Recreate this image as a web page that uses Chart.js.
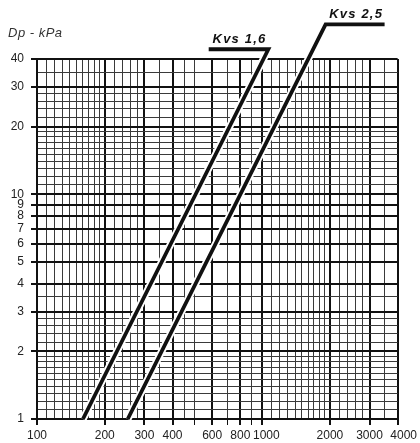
<!DOCTYPE html>
<html>
<head>
<meta charset="utf-8">
<script src="https://cdn.jsdelivr.net/npm/chart.js@4/dist/chart.umd.min.js"></script>
<style>
  html, body { margin: 0; padding: 0; background: #fff; }
  #wrap { width: 420px; height: 443px; position: relative; }
</style>
</head>
<body>
<div id="wrap"><canvas id="dpChart"></canvas></div>
<script>
// Diagramma perdite di carico — Dp (kPa) in funzione della portata, scala log-log.

// Linee Kvs: piede (Dp = 1), gomito sopra il riquadro, fine del tratto orizzontale.
const KVS16_Q  = [160, 1066, 579];
const KVS16_DP = [1, 44.2, 44.2];
const KVS25_Q  = [253, 1914, 3500];
const KVS25_DP = [1, 57, 57];

const SERIES_NAMES = ['Kvs 1,6', 'Kvs 2,5'];

// Griglia asse X (portata)
const X_GRID = [100, 110, 120, 130, 140, 150, 160, 170, 180, 190,
                200, 220, 240, 260, 280, 300, 350, 400, 450, 500,
                600, 700, 800, 900, 1000, 1100, 1200, 1300, 1400, 1500,
                1600, 1700, 1800, 1900, 2000, 2200, 2400, 2600, 2800,
                3000, 3500, 4000];
const X_LABELS = [100, 200, 300, 400, 600, 800, 1000, 2000, 3000, 4000];
const X_TICKMARKS = [100, 200, 300, 400, 500, 600, 700, 800, 900, 1000, 2000, 3000, 4000];

// Griglia asse Y (Dp)
const Y_GRID = [1, 1.1, 1.2, 1.3, 1.4, 1.5, 1.6, 1.7, 1.8, 1.9,
                2, 2.2, 2.4, 2.6, 2.8, 3, 3.5, 4, 5, 6, 7, 8, 9,
                10, 11, 12, 13, 14, 15, 16, 17, 18, 19,
                20, 22, 24, 26, 28, 30, 35, 40];
const Y_LABELS = [1, 2, 3, 4, 5, 6, 7, 8, 9, 10, 20, 30, 40];

const AXIS_TITLE = 'Dp - kPa';

(function() {
  Chart.defaults.font.family = "'Liberation Sans', Arial, sans-serif";
  Chart.defaults.font.size = 12;
  Chart.defaults.color = '#222';

  const pts = (xs, ys) => xs.map((x, i) => ({ x: x, y: ys[i] }));

  const isIn = (arr, v) => arr.some(a => Math.abs(a - v) < 1e-9);

  function gridFor(labels, marks) {
    return {
      color: ctx => isIn(labels, ctx.tick.value) ? '#111' : '#3a3a3a',
      lineWidth: ctx => isIn(labels, ctx.tick.value) ? 2 : 1,
      tickColor: ctx => isIn(marks, ctx.tick.value) ? '#111' : 'rgba(0,0,0,0)',
      tickWidth: ctx => isIn(labels, ctx.tick.value) ? 2 : 1,
      tickLength: 6,
      drawTicks: true,
    };
  }

  // Testi: titolo asse Y ed etichette Kvs sopra i tratti orizzontali.
  const textPlugin = {
    id: 'dpTexts',
    afterDraw(chart) {
      const c = chart.ctx;
      const sx = chart.scales.x, sy = chart.scales.y;
      c.save();
      c.fillStyle = '#333';
      c.font = "italic 13px 'Liberation Sans', Arial, sans-serif";
      c.letterSpacing = '0.5px';
      c.textAlign = 'left';
      c.textBaseline = 'middle';
      c.fillText(AXIS_TITLE, 8, 33);

      c.fillStyle = '#111';
      c.font = "bold italic 13px 'Liberation Sans', Arial, sans-serif";
      c.letterSpacing = '1.2px';
      c.textAlign = 'center';
      c.textBaseline = 'alphabetic';
      [[KVS16_Q, KVS16_DP], [KVS25_Q, KVS25_DP]].forEach((s, i) => {
        const xa = sx.getPixelForValue(s[0][1]);
        const xb = sx.getPixelForValue(s[0][2]);
        const y = sy.getPixelForValue(s[1][1]);
        c.fillText(SERIES_NAMES[i], (xa + xb) / 2 + 1, y - 6);
      });
      c.restore();
    }
  };

  const lineBase = {
    showLine: true,
    pointRadius: 0,
    pointHoverRadius: 0,
    clip: false,
    borderCapStyle: 'butt',
    borderJoinStyle: 'miter',
    tension: 0,
  };

  // etichette spostate un poco a destra come nell'originale
  const SHIFTED = { 1000: '\u2002\u2009', 4000: '\u2002\u2002' };

  new Chart(document.getElementById('dpChart'), {
    type: 'scatter',
    data: {
      datasets: [
        Object.assign({ label: 'halo16', data: pts(KVS16_Q, KVS16_DP), borderColor: '#fff', borderWidth: 7.5, order: 2 }, lineBase),
        Object.assign({ label: 'halo25', data: pts(KVS25_Q, KVS25_DP), borderColor: '#fff', borderWidth: 7.5, order: 2 }, lineBase),
        Object.assign({ label: SERIES_NAMES[0], data: pts(KVS16_Q, KVS16_DP), borderColor: '#111', borderWidth: 3.8, order: 1 }, lineBase),
        Object.assign({ label: SERIES_NAMES[1], data: pts(KVS25_Q, KVS25_DP), borderColor: '#111', borderWidth: 3.8, order: 1 }, lineBase),
      ],
    },
    options: {
      responsive: true,
      maintainAspectRatio: false,
      animation: false,
      events: [],
      layout: { padding: { top: 59, right: 21, left: 0, bottom: 0 } },
      plugins: { legend: { display: false }, tooltip: { enabled: false } },
      scales: {
        x: {
          type: 'logarithmic',
          min: 100,
          max: 4000,
          afterBuildTicks: scale => { scale.ticks = X_GRID.map(v => ({ value: v })); },
          afterFit: scale => { scale.height = 24; },
          grid: gridFor(X_LABELS, X_TICKMARKS),
          border: { color: '#111', width: 2 },
          ticks: {
            autoSkip: false,
            maxRotation: 0,
            minRotation: 0,
            padding: 3,
            color: '#222',
            callback: v => !isIn(X_LABELS, v) ? '' : (SHIFTED[v] || '') + v,
          },
        },
        y: {
          type: 'logarithmic',
          min: 1,
          max: 40,
          afterBuildTicks: scale => { scale.ticks = Y_GRID.map(v => ({ value: v })); },
          afterFit: scale => { scale.width = 37; },
          grid: gridFor(Y_LABELS, Y_LABELS),
          border: { color: '#111', width: 2 },
          ticks: {
            autoSkip: false,
            padding: 7,
            color: '#222',
            callback: v => isIn(Y_LABELS, v) ? String(v) : '',
          },
        },
      },
    },
    plugins: [textPlugin],
  });
})();
</script>
</body>
</html>
